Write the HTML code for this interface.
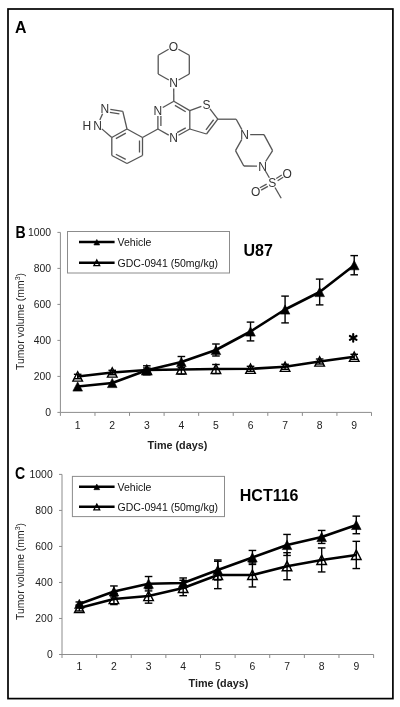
<!DOCTYPE html>
<html><head><meta charset="utf-8"><style>
html,body{margin:0;padding:0;background:#fff;}
body{width:400px;height:707px;overflow:hidden;font-family:"Liberation Sans", sans-serif;}
svg{display:block;will-change:transform;}
</style></head><body>
<svg width="400" height="707" viewBox="0 0 400 707">
<rect x="0" y="0" width="400" height="707" fill="#fff"/>
<rect x="8" y="9" width="384.9" height="689.6" fill="none" stroke="#000" stroke-width="1.7"/>
<text transform="translate(14.9 32.6) scale(0.97 1)" font-family='"Liberation Sans", sans-serif' font-size="16.4" font-weight="bold" fill="#000">A</text>
<g stroke="#555" stroke-width="1.3" stroke-linecap="butt" fill="none">
<line x1="168.63" y1="49.27" x2="158.20" y2="55.20"/>
<line x1="158.20" y1="55.20" x2="158.20" y2="74.00"/>
<line x1="158.20" y1="74.00" x2="168.83" y2="80.04"/>
<line x1="178.58" y1="80.05" x2="189.30" y2="74.00"/>
<line x1="189.30" y1="74.00" x2="189.30" y2="55.20"/>
<line x1="189.30" y1="55.20" x2="178.41" y2="49.20"/>
<line x1="173.73" y1="88.40" x2="173.80" y2="101.30"/>
<line x1="173.80" y1="101.30" x2="162.77" y2="107.54"/>
<line x1="157.90" y1="115.90" x2="157.90" y2="129.00"/>
<line x1="160.90" y1="115.90" x2="160.90" y2="126.00"/>
<line x1="157.90" y1="129.00" x2="168.73" y2="135.14"/>
<line x1="178.51" y1="135.20" x2="189.80" y2="129.00"/>
<line x1="177.06" y1="132.57" x2="185.73" y2="127.82"/>
<line x1="189.80" y1="129.00" x2="189.80" y2="110.60"/>
<line x1="189.80" y1="110.60" x2="173.80" y2="101.30"/>
<line x1="185.70" y1="111.69" x2="174.89" y2="105.40"/>
<line x1="189.80" y1="110.60" x2="201.36" y2="106.27"/>
<line x1="209.96" y1="108.78" x2="217.80" y2="119.20"/>
<line x1="217.80" y1="119.20" x2="206.50" y2="134.00"/>
<line x1="213.59" y1="119.76" x2="205.94" y2="129.79"/>
<line x1="206.50" y1="134.00" x2="189.80" y2="129.00"/>
<line x1="217.80" y1="119.20" x2="236.20" y2="119.20"/>
<line x1="236.20" y1="119.20" x2="241.90" y2="129.59"/>
<line x1="250.20" y1="134.53" x2="264.00" y2="134.60"/>
<line x1="264.00" y1="134.60" x2="272.60" y2="150.60"/>
<line x1="272.60" y1="150.60" x2="265.62" y2="161.49"/>
<line x1="257.00" y1="166.14" x2="243.80" y2="166.00"/>
<line x1="243.80" y1="166.00" x2="235.50" y2="150.60"/>
<line x1="235.50" y1="150.60" x2="241.84" y2="139.38"/>
<line x1="265.43" y1="171.03" x2="269.37" y2="177.77"/>
<line x1="277.64" y1="180.73" x2="283.15" y2="177.28"/>
<line x1="276.25" y1="178.52" x2="281.76" y2="175.07"/>
<line x1="266.66" y1="184.13" x2="259.90" y2="187.79"/>
<line x1="267.90" y1="186.41" x2="261.14" y2="190.07"/>
<line x1="275.00" y1="187.45" x2="281.20" y2="198.20"/>
<line x1="157.90" y1="129.00" x2="142.50" y2="137.50"/>
<line x1="142.50" y1="137.50" x2="127.00" y2="129.00"/>
<line x1="127.00" y1="129.00" x2="111.80" y2="137.50"/>
<line x1="125.85" y1="133.08" x2="115.88" y2="138.65"/>
<line x1="111.80" y1="137.50" x2="111.80" y2="155.50"/>
<line x1="111.80" y1="155.50" x2="127.00" y2="163.50"/>
<line x1="115.85" y1="154.24" x2="125.74" y2="159.45"/>
<line x1="127.00" y1="163.50" x2="142.50" y2="155.50"/>
<line x1="142.50" y1="155.50" x2="142.50" y2="137.50"/>
<line x1="139.50" y1="152.50" x2="139.50" y2="140.50"/>
<line x1="127.00" y1="129.00" x2="122.80" y2="111.40"/>
<line x1="122.80" y1="111.40" x2="110.33" y2="109.46"/>
<line x1="119.37" y1="113.90" x2="109.87" y2="112.43"/>
<line x1="102.57" y1="113.74" x2="99.83" y2="120.06"/>
<line x1="101.83" y1="128.87" x2="111.80" y2="137.50"/>
</g>
<g fill="#333" font-family='"Liberation Sans", sans-serif' font-size="12" text-anchor="middle">
<text x="173.50" y="50.80">O</text>
<text x="173.70" y="87.10">N</text>
<text x="157.90" y="114.60">N</text>
<text x="173.60" y="142.20">N</text>
<text x="206.60" y="108.60">S</text>
<text x="244.60" y="138.80">N</text>
<text x="262.60" y="170.50">N</text>
<text x="272.20" y="186.90">S</text>
<text x="287.20" y="177.50">O</text>
<text x="255.60" y="195.90">O</text>
<text x="104.80" y="112.90">N</text>
<text x="97.60" y="129.50">N</text>
<text x="86.9" y="129.5">H</text>
</g>
<g stroke="#8c8c8c" stroke-width="1" fill="none">
<line x1="60.40" y1="232.40" x2="60.40" y2="412.40"/>
<line x1="60.40" y1="412.40" x2="371.50" y2="412.40"/>
<line x1="57.40" y1="412.40" x2="60.40" y2="412.40"/>
<line x1="57.40" y1="376.40" x2="60.40" y2="376.40"/>
<line x1="57.40" y1="340.40" x2="60.40" y2="340.40"/>
<line x1="57.40" y1="304.40" x2="60.40" y2="304.40"/>
<line x1="57.40" y1="268.40" x2="60.40" y2="268.40"/>
<line x1="57.40" y1="232.40" x2="60.40" y2="232.40"/>
<line x1="60.40" y1="412.40" x2="60.40" y2="415.90"/>
<line x1="94.97" y1="412.40" x2="94.97" y2="415.90"/>
<line x1="129.53" y1="412.40" x2="129.53" y2="415.90"/>
<line x1="164.10" y1="412.40" x2="164.10" y2="415.90"/>
<line x1="198.67" y1="412.40" x2="198.67" y2="415.90"/>
<line x1="233.23" y1="412.40" x2="233.23" y2="415.90"/>
<line x1="267.80" y1="412.40" x2="267.80" y2="415.90"/>
<line x1="302.37" y1="412.40" x2="302.37" y2="415.90"/>
<line x1="336.93" y1="412.40" x2="336.93" y2="415.90"/>
<line x1="371.50" y1="412.40" x2="371.50" y2="415.90"/>
</g>
<g fill="#222" font-family='"Liberation Sans", sans-serif' font-size="10.4">
<text x="51.10" y="416.10" text-anchor="end">0</text>
<text x="51.10" y="380.10" text-anchor="end">200</text>
<text x="51.10" y="344.10" text-anchor="end">400</text>
<text x="51.10" y="308.10" text-anchor="end">600</text>
<text x="51.10" y="272.10" text-anchor="end">800</text>
<text x="51.10" y="236.10" text-anchor="end">1000</text>
<text x="77.68" y="428.60" text-anchor="middle">1</text>
<text x="112.25" y="428.60" text-anchor="middle">2</text>
<text x="146.82" y="428.60" text-anchor="middle">3</text>
<text x="181.38" y="428.60" text-anchor="middle">4</text>
<text x="215.95" y="428.60" text-anchor="middle">5</text>
<text x="250.52" y="428.60" text-anchor="middle">6</text>
<text x="285.08" y="428.60" text-anchor="middle">7</text>
<text x="319.65" y="428.60" text-anchor="middle">8</text>
<text x="354.22" y="428.60" text-anchor="middle">9</text>
<text transform="translate(23.6 321.50) rotate(-90)" text-anchor="middle">Tumor volume (mm<tspan font-size="7" dy="-4">3</tspan><tspan dy="4">)</tspan></text>
<text x="177.40" y="449.00" text-anchor="middle" font-weight="bold" font-size="10.8">Time (days)</text>
</g>
<text transform="translate(15.50 238.30) scale(0.86 1)" font-family='"Liberation Sans", sans-serif' font-size="16.4" font-weight="bold" fill="#000">B</text>
<text x="243.50" y="255.60" font-family='"Liberation Sans", sans-serif' font-size="16" font-weight="bold" fill="#000">U87</text>
<rect x="67.50" y="231.50" width="162.00" height="41.50" fill="#fff" stroke="#8c8c8c" stroke-width="1"/>
<g stroke="#000" stroke-width="2.4"><line x1="79" y1="242.00" x2="114.6" y2="242.00"/><line x1="79" y1="262.70" x2="114.6" y2="262.70"/></g>
<path d="M96.80 239.42L99.70 244.98L93.90 244.98Z" fill="#000" stroke="#000" stroke-width="0.6" stroke-linejoin="miter"/>
<path d="M96.80 260.00L99.70 265.68L93.90 265.68Z" fill="none" stroke="#000" stroke-width="1.3" stroke-linejoin="miter"/>
<g fill="#111" font-family='"Liberation Sans", sans-serif' font-size="10.5"><text x="117.6" y="245.80">Vehicle</text><text x="117.6" y="266.50">GDC-0941 (50mg/kg)</text></g>
<g stroke="#000" stroke-width="1.4">
<line x1="77.68" y1="374.30" x2="77.68" y2="378.70"/>
<line x1="73.88" y1="374.30" x2="81.48" y2="374.30"/>
<line x1="73.88" y1="378.70" x2="81.48" y2="378.70"/>
<line x1="112.25" y1="370.30" x2="112.25" y2="374.70"/>
<line x1="108.45" y1="370.30" x2="116.05" y2="370.30"/>
<line x1="108.45" y1="374.70" x2="116.05" y2="374.70"/>
<line x1="146.82" y1="368.00" x2="146.82" y2="372.00"/>
<line x1="143.02" y1="368.00" x2="150.62" y2="368.00"/>
<line x1="143.02" y1="372.00" x2="150.62" y2="372.00"/>
<line x1="181.38" y1="365.00" x2="181.38" y2="374.00"/>
<line x1="177.58" y1="365.00" x2="185.18" y2="365.00"/>
<line x1="177.58" y1="374.00" x2="185.18" y2="374.00"/>
<line x1="215.95" y1="364.50" x2="215.95" y2="373.50"/>
<line x1="212.15" y1="364.50" x2="219.75" y2="364.50"/>
<line x1="212.15" y1="373.50" x2="219.75" y2="373.50"/>
<line x1="250.52" y1="366.30" x2="250.52" y2="371.30"/>
<line x1="246.72" y1="366.30" x2="254.32" y2="366.30"/>
<line x1="246.72" y1="371.30" x2="254.32" y2="371.30"/>
<line x1="285.08" y1="364.30" x2="285.08" y2="369.30"/>
<line x1="281.28" y1="364.30" x2="288.88" y2="364.30"/>
<line x1="281.28" y1="369.30" x2="288.88" y2="369.30"/>
<line x1="319.65" y1="359.00" x2="319.65" y2="364.00"/>
<line x1="315.85" y1="359.00" x2="323.45" y2="359.00"/>
<line x1="315.85" y1="364.00" x2="323.45" y2="364.00"/>
<line x1="354.22" y1="354.30" x2="354.22" y2="359.30"/>
<line x1="350.42" y1="354.30" x2="358.02" y2="354.30"/>
<line x1="350.42" y1="359.30" x2="358.02" y2="359.30"/>
</g>
<g stroke="#000" stroke-width="1.4">
<line x1="146.82" y1="365.80" x2="146.82" y2="374.80"/>
<line x1="143.02" y1="365.80" x2="150.62" y2="365.80"/>
<line x1="143.02" y1="374.80" x2="150.62" y2="374.80"/>
<line x1="181.38" y1="356.50" x2="181.38" y2="367.50"/>
<line x1="177.58" y1="356.50" x2="185.18" y2="356.50"/>
<line x1="177.58" y1="367.50" x2="185.18" y2="367.50"/>
<line x1="215.95" y1="344.00" x2="215.95" y2="356.00"/>
<line x1="212.15" y1="344.00" x2="219.75" y2="344.00"/>
<line x1="212.15" y1="356.00" x2="219.75" y2="356.00"/>
<line x1="250.52" y1="322.10" x2="250.52" y2="340.90"/>
<line x1="246.72" y1="322.10" x2="254.32" y2="322.10"/>
<line x1="246.72" y1="340.90" x2="254.32" y2="340.90"/>
<line x1="285.08" y1="296.10" x2="285.08" y2="322.90"/>
<line x1="281.28" y1="296.10" x2="288.88" y2="296.10"/>
<line x1="281.28" y1="322.90" x2="288.88" y2="322.90"/>
<line x1="319.65" y1="279.10" x2="319.65" y2="304.90"/>
<line x1="315.85" y1="279.10" x2="323.45" y2="279.10"/>
<line x1="315.85" y1="304.90" x2="323.45" y2="304.90"/>
<line x1="354.22" y1="255.60" x2="354.22" y2="274.80"/>
<line x1="350.42" y1="255.60" x2="358.02" y2="255.60"/>
<line x1="350.42" y1="274.80" x2="358.02" y2="274.80"/>
</g>
<polyline points="77.68,376.50 112.25,372.50 146.82,370.00 181.38,369.50 215.95,369.00 250.52,368.80 285.08,366.80 319.65,361.50 354.22,356.80" fill="none" stroke="#000" stroke-width="2.6" stroke-linejoin="round"/>
<polyline points="77.68,386.50 112.25,383.00 146.82,370.30 181.38,362.00 215.95,350.00 250.52,331.50 285.08,309.50 319.65,292.00 354.22,265.20" fill="none" stroke="#000" stroke-width="2.6" stroke-linejoin="round"/>
<path d="M77.68 371.70L82.48 381.11L72.88 381.11Z" fill="none" stroke="#000" stroke-width="1.4" stroke-linejoin="miter"/>
<path d="M112.25 367.70L117.05 377.11L107.45 377.11Z" fill="none" stroke="#000" stroke-width="1.4" stroke-linejoin="miter"/>
<path d="M146.82 365.20L151.62 374.61L142.02 374.61Z" fill="none" stroke="#000" stroke-width="1.4" stroke-linejoin="miter"/>
<path d="M181.38 364.70L186.18 374.11L176.58 374.11Z" fill="none" stroke="#000" stroke-width="1.4" stroke-linejoin="miter"/>
<path d="M215.95 364.20L220.75 373.61L211.15 373.61Z" fill="none" stroke="#000" stroke-width="1.4" stroke-linejoin="miter"/>
<path d="M250.52 364.00L255.32 373.41L245.72 373.41Z" fill="none" stroke="#000" stroke-width="1.4" stroke-linejoin="miter"/>
<path d="M285.08 362.00L289.88 371.41L280.28 371.41Z" fill="none" stroke="#000" stroke-width="1.4" stroke-linejoin="miter"/>
<path d="M319.65 356.70L324.45 366.11L314.85 366.11Z" fill="none" stroke="#000" stroke-width="1.4" stroke-linejoin="miter"/>
<path d="M354.22 352.00L359.02 361.41L349.42 361.41Z" fill="none" stroke="#000" stroke-width="1.4" stroke-linejoin="miter"/>
<path d="M77.68 381.89L82.48 391.11L72.89 391.11Z" fill="#000" stroke="#000" stroke-width="0.6" stroke-linejoin="miter"/>
<path d="M112.25 378.39L117.04 387.61L107.46 387.61Z" fill="#000" stroke="#000" stroke-width="0.6" stroke-linejoin="miter"/>
<path d="M146.82 365.69L151.61 374.91L142.02 374.91Z" fill="#000" stroke="#000" stroke-width="0.6" stroke-linejoin="miter"/>
<path d="M181.38 357.39L186.18 366.61L176.59 366.61Z" fill="#000" stroke="#000" stroke-width="0.6" stroke-linejoin="miter"/>
<path d="M215.95 345.39L220.74 354.61L211.16 354.61Z" fill="#000" stroke="#000" stroke-width="0.6" stroke-linejoin="miter"/>
<path d="M250.52 326.89L255.31 336.11L245.72 336.11Z" fill="#000" stroke="#000" stroke-width="0.6" stroke-linejoin="miter"/>
<path d="M285.08 304.89L289.88 314.11L280.29 314.11Z" fill="#000" stroke="#000" stroke-width="0.6" stroke-linejoin="miter"/>
<path d="M319.65 287.39L324.44 296.61L314.86 296.61Z" fill="#000" stroke="#000" stroke-width="0.6" stroke-linejoin="miter"/>
<path d="M354.22 260.59L359.01 269.81L349.42 269.81Z" fill="#000" stroke="#000" stroke-width="0.6" stroke-linejoin="miter"/>
<g stroke="#000" stroke-width="2.1" stroke-linecap="round">
<line x1="353.20" y1="334.05" x2="353.20" y2="341.75"/>
<line x1="349.87" y1="335.97" x2="356.53" y2="339.82"/>
<line x1="356.53" y1="335.97" x2="349.87" y2="339.82"/>
</g>
<g stroke="#8c8c8c" stroke-width="1" fill="none">
<line x1="62.00" y1="474.40" x2="62.00" y2="654.50"/>
<line x1="62.00" y1="654.50" x2="373.60" y2="654.50"/>
<line x1="59.00" y1="654.50" x2="62.00" y2="654.50"/>
<line x1="59.00" y1="618.48" x2="62.00" y2="618.48"/>
<line x1="59.00" y1="582.46" x2="62.00" y2="582.46"/>
<line x1="59.00" y1="546.44" x2="62.00" y2="546.44"/>
<line x1="59.00" y1="510.42" x2="62.00" y2="510.42"/>
<line x1="59.00" y1="474.40" x2="62.00" y2="474.40"/>
<line x1="62.00" y1="654.50" x2="62.00" y2="658.00"/>
<line x1="96.62" y1="654.50" x2="96.62" y2="658.00"/>
<line x1="131.24" y1="654.50" x2="131.24" y2="658.00"/>
<line x1="165.87" y1="654.50" x2="165.87" y2="658.00"/>
<line x1="200.49" y1="654.50" x2="200.49" y2="658.00"/>
<line x1="235.11" y1="654.50" x2="235.11" y2="658.00"/>
<line x1="269.73" y1="654.50" x2="269.73" y2="658.00"/>
<line x1="304.36" y1="654.50" x2="304.36" y2="658.00"/>
<line x1="338.98" y1="654.50" x2="338.98" y2="658.00"/>
<line x1="373.60" y1="654.50" x2="373.60" y2="658.00"/>
</g>
<g fill="#222" font-family='"Liberation Sans", sans-serif' font-size="10.4">
<text x="52.70" y="658.20" text-anchor="end">0</text>
<text x="52.70" y="622.18" text-anchor="end">200</text>
<text x="52.70" y="586.16" text-anchor="end">400</text>
<text x="52.70" y="550.14" text-anchor="end">600</text>
<text x="52.70" y="514.12" text-anchor="end">800</text>
<text x="52.70" y="478.10" text-anchor="end">1000</text>
<text x="79.31" y="670.40" text-anchor="middle">1</text>
<text x="113.93" y="670.40" text-anchor="middle">2</text>
<text x="148.56" y="670.40" text-anchor="middle">3</text>
<text x="183.18" y="670.40" text-anchor="middle">4</text>
<text x="217.80" y="670.40" text-anchor="middle">5</text>
<text x="252.42" y="670.40" text-anchor="middle">6</text>
<text x="287.04" y="670.40" text-anchor="middle">7</text>
<text x="321.67" y="670.40" text-anchor="middle">8</text>
<text x="356.29" y="670.40" text-anchor="middle">9</text>
<text transform="translate(23.6 571.50) rotate(-90)" text-anchor="middle">Tumor volume (mm<tspan font-size="7" dy="-4">3</tspan><tspan dy="4">)</tspan></text>
<text x="218.40" y="686.60" text-anchor="middle" font-weight="bold" font-size="10.8">Time (days)</text>
</g>
<text transform="translate(15.00 479.30) scale(0.86 1)" font-family='"Liberation Sans", sans-serif' font-size="16.4" font-weight="bold" fill="#000">C</text>
<text x="239.80" y="500.60" font-family='"Liberation Sans", sans-serif' font-size="16" font-weight="bold" fill="#000">HCT116</text>
<rect x="72.40" y="476.40" width="152.10" height="40.20" fill="#fff" stroke="#8c8c8c" stroke-width="1"/>
<g stroke="#000" stroke-width="2.4"><line x1="79" y1="486.70" x2="114.6" y2="486.70"/><line x1="79" y1="506.80" x2="114.6" y2="506.80"/></g>
<path d="M96.80 484.12L99.70 489.68L93.90 489.68Z" fill="#000" stroke="#000" stroke-width="0.6" stroke-linejoin="miter"/>
<path d="M96.80 504.10L99.70 509.78L93.90 509.78Z" fill="none" stroke="#000" stroke-width="1.3" stroke-linejoin="miter"/>
<g fill="#111" font-family='"Liberation Sans", sans-serif' font-size="10.5"><text x="117.6" y="490.50">Vehicle</text><text x="117.6" y="510.60">GDC-0941 (50mg/kg)</text></g>
<g stroke="#000" stroke-width="1.4">
<line x1="79.31" y1="604.97" x2="79.31" y2="610.98"/>
<line x1="75.51" y1="604.97" x2="83.11" y2="604.97"/>
<line x1="75.51" y1="610.98" x2="83.11" y2="610.98"/>
<line x1="113.93" y1="593.37" x2="113.93" y2="604.57"/>
<line x1="110.13" y1="593.37" x2="117.73" y2="593.37"/>
<line x1="110.13" y1="604.57" x2="117.73" y2="604.57"/>
<line x1="148.56" y1="588.76" x2="148.56" y2="603.17"/>
<line x1="144.76" y1="588.76" x2="152.36" y2="588.76"/>
<line x1="144.76" y1="603.17" x2="152.36" y2="603.17"/>
<line x1="183.18" y1="580.26" x2="183.18" y2="595.67"/>
<line x1="179.38" y1="580.26" x2="186.98" y2="580.26"/>
<line x1="179.38" y1="595.67" x2="186.98" y2="595.67"/>
<line x1="217.80" y1="561.25" x2="217.80" y2="588.66"/>
<line x1="214.00" y1="561.25" x2="221.60" y2="561.25"/>
<line x1="214.00" y1="588.66" x2="221.60" y2="588.66"/>
<line x1="252.42" y1="562.95" x2="252.42" y2="586.96"/>
<line x1="248.62" y1="562.95" x2="256.22" y2="562.95"/>
<line x1="248.62" y1="586.96" x2="256.22" y2="586.96"/>
<line x1="287.04" y1="552.69" x2="287.04" y2="579.71"/>
<line x1="283.24" y1="552.69" x2="290.84" y2="552.69"/>
<line x1="283.24" y1="579.71" x2="290.84" y2="579.71"/>
<line x1="321.67" y1="547.94" x2="321.67" y2="571.95"/>
<line x1="317.87" y1="547.94" x2="325.47" y2="547.94"/>
<line x1="317.87" y1="571.95" x2="325.47" y2="571.95"/>
<line x1="356.29" y1="541.34" x2="356.29" y2="568.55"/>
<line x1="352.49" y1="541.34" x2="360.09" y2="541.34"/>
<line x1="352.49" y1="568.55" x2="360.09" y2="568.55"/>
</g>
<g stroke="#000" stroke-width="1.4">
<line x1="79.31" y1="601.97" x2="79.31" y2="605.97"/>
<line x1="75.51" y1="601.97" x2="83.11" y2="601.97"/>
<line x1="75.51" y1="605.97" x2="83.11" y2="605.97"/>
<line x1="113.93" y1="585.96" x2="113.93" y2="596.97"/>
<line x1="110.13" y1="585.96" x2="117.73" y2="585.96"/>
<line x1="110.13" y1="596.97" x2="117.73" y2="596.97"/>
<line x1="148.56" y1="576.51" x2="148.56" y2="590.91"/>
<line x1="144.76" y1="576.51" x2="152.36" y2="576.51"/>
<line x1="144.76" y1="590.91" x2="152.36" y2="590.91"/>
<line x1="183.18" y1="577.96" x2="183.18" y2="587.96"/>
<line x1="179.38" y1="577.96" x2="186.98" y2="577.96"/>
<line x1="179.38" y1="587.96" x2="186.98" y2="587.96"/>
<line x1="217.80" y1="559.95" x2="217.80" y2="579.96"/>
<line x1="214.00" y1="559.95" x2="221.60" y2="559.95"/>
<line x1="214.00" y1="579.96" x2="221.60" y2="579.96"/>
<line x1="252.42" y1="550.44" x2="252.42" y2="564.45"/>
<line x1="248.62" y1="550.44" x2="256.22" y2="550.44"/>
<line x1="248.62" y1="564.45" x2="256.22" y2="564.45"/>
<line x1="287.04" y1="534.43" x2="287.04" y2="555.45"/>
<line x1="283.24" y1="534.43" x2="290.84" y2="534.43"/>
<line x1="283.24" y1="555.45" x2="290.84" y2="555.45"/>
<line x1="321.67" y1="530.43" x2="321.67" y2="543.44"/>
<line x1="317.87" y1="530.43" x2="325.47" y2="530.43"/>
<line x1="317.87" y1="543.44" x2="325.47" y2="543.44"/>
<line x1="356.29" y1="516.12" x2="356.29" y2="533.73"/>
<line x1="352.49" y1="516.12" x2="360.09" y2="516.12"/>
<line x1="352.49" y1="533.73" x2="360.09" y2="533.73"/>
</g>
<polyline points="79.31,607.97 113.93,598.97 148.56,595.97 183.18,587.96 217.80,574.96 252.42,574.96 287.04,566.20 321.67,559.95 356.29,554.94" fill="none" stroke="#000" stroke-width="2.6" stroke-linejoin="round"/>
<polyline points="79.31,603.97 113.93,591.47 148.56,583.71 183.18,582.96 217.80,569.95 252.42,557.45 287.04,544.94 321.67,536.93 356.29,524.93" fill="none" stroke="#000" stroke-width="2.6" stroke-linejoin="round"/>
<path d="M79.31 603.17L84.11 612.58L74.51 612.58Z" fill="none" stroke="#000" stroke-width="1.4" stroke-linejoin="miter"/>
<path d="M113.93 594.17L118.73 603.58L109.13 603.58Z" fill="none" stroke="#000" stroke-width="1.4" stroke-linejoin="miter"/>
<path d="M148.56 591.17L153.36 600.58L143.76 600.58Z" fill="none" stroke="#000" stroke-width="1.4" stroke-linejoin="miter"/>
<path d="M183.18 583.16L187.98 592.57L178.38 592.57Z" fill="none" stroke="#000" stroke-width="1.4" stroke-linejoin="miter"/>
<path d="M217.80 570.16L222.60 579.56L213.00 579.56Z" fill="none" stroke="#000" stroke-width="1.4" stroke-linejoin="miter"/>
<path d="M252.42 570.16L257.22 579.56L247.62 579.56Z" fill="none" stroke="#000" stroke-width="1.4" stroke-linejoin="miter"/>
<path d="M287.04 561.40L291.84 570.81L282.24 570.81Z" fill="none" stroke="#000" stroke-width="1.4" stroke-linejoin="miter"/>
<path d="M321.67 555.15L326.47 564.56L316.87 564.56Z" fill="none" stroke="#000" stroke-width="1.4" stroke-linejoin="miter"/>
<path d="M356.29 550.14L361.09 559.55L351.49 559.55Z" fill="none" stroke="#000" stroke-width="1.4" stroke-linejoin="miter"/>
<path d="M79.31 599.36L84.10 608.58L74.52 608.58Z" fill="#000" stroke="#000" stroke-width="0.6" stroke-linejoin="miter"/>
<path d="M113.93 586.86L118.73 596.07L109.14 596.07Z" fill="#000" stroke="#000" stroke-width="0.6" stroke-linejoin="miter"/>
<path d="M148.56 579.10L153.35 588.32L143.76 588.32Z" fill="#000" stroke="#000" stroke-width="0.6" stroke-linejoin="miter"/>
<path d="M183.18 578.35L187.97 587.57L178.39 587.57Z" fill="#000" stroke="#000" stroke-width="0.6" stroke-linejoin="miter"/>
<path d="M217.80 565.35L222.59 574.56L213.01 574.56Z" fill="#000" stroke="#000" stroke-width="0.6" stroke-linejoin="miter"/>
<path d="M252.42 552.84L257.21 562.05L247.63 562.05Z" fill="#000" stroke="#000" stroke-width="0.6" stroke-linejoin="miter"/>
<path d="M287.04 540.33L291.84 549.55L282.25 549.55Z" fill="#000" stroke="#000" stroke-width="0.6" stroke-linejoin="miter"/>
<path d="M321.67 532.33L326.46 541.54L316.87 541.54Z" fill="#000" stroke="#000" stroke-width="0.6" stroke-linejoin="miter"/>
<path d="M356.29 520.32L361.08 529.54L351.50 529.54Z" fill="#000" stroke="#000" stroke-width="0.6" stroke-linejoin="miter"/>
</svg>
</body></html>
